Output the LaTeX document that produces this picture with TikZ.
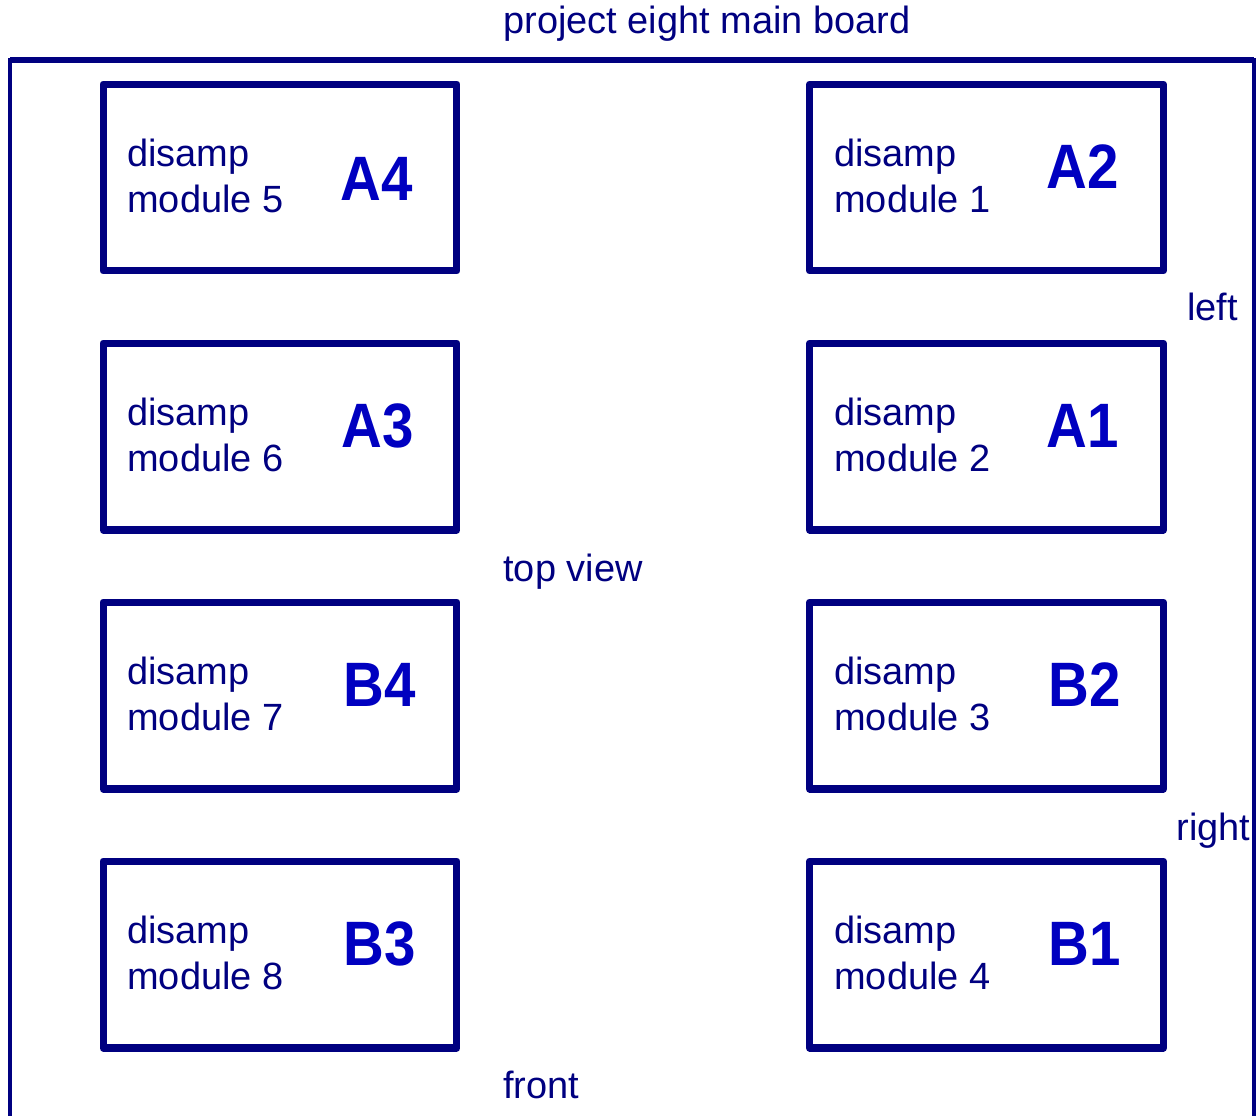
\documentclass[tikz,border=0pt]{standalone}
\usepackage{fontspec}
\setmainfont{Liberation Sans}
\newfontfamily\slotfont[FakeStretch=0.9]{Liberation Sans Bold}
\usepackage{tikz}
\definecolor{boardnavy}{RGB}{0,0,128}
\definecolor{slotblue}{RGB}{0,0,192}
\tikzset{
  module/.style={draw=boardnavy,line width=4pt,line join=round,
    minimum width=7.08cm,minimum height=3.74cm,inner sep=0pt},
  modtext/.style={anchor=base west,inner sep=0pt,text=boardnavy,
    font=\fontsize{21.6pt}{26pt}\selectfont},
  slot/.style={anchor=base west,inner sep=0pt,text=slotblue,
    font=\fontsize{35.7pt}{40pt}\slotfont},
  side/.style={anchor=base west,inner sep=0pt,text=boardnavy,
    font=\fontsize{21.6pt}{26pt}\selectfont}
}

\begin{document}
\begin{tikzpicture}[x=0.02cm,y=-0.02cm]
\useasboundingbox (0,0) rectangle (1256,1115);
\clip (0,0) rectangle (1256,1115);
% main board outline
\draw[boardnavy,line width=2.3pt] (10,1130) -- (10,60) -- (1253.5,60) -- (1253.5,1130);
\draw[boardnavy,line width=3.4pt] (10,60) -- (1253.5,60);
% modules, left column
\node[module] (m5) at (280,177.5) {};
\node[module] (m6) at (280,436.5) {};
\node[module] (m7) at (280,695.5) {};
\node[module] (m8) at (280,954.5) {};
% modules, right column
\node[module] (m1) at (986.5,177.5) {};
\node[module] (m2) at (986.5,436.5) {};
\node[module] (m3) at (986.5,695.5) {};
\node[module] (m4) at (986.5,954.5) {};
% module texts
\node[modtext] (d5) at (127,166) {disamp};
\node[modtext] (n5) at (127,212) {module 5};
\node[modtext] (d6) at (127,425) {disamp};
\node[modtext] (n6) at (127,471) {module 6};
\node[modtext] (d7) at (127,684) {disamp};
\node[modtext] (n7) at (127,730) {module 7};
\node[modtext] (d8) at (127,943) {disamp};
\node[modtext] (n8) at (127,989) {module 8};
\node[modtext] (d1) at (834,166) {disamp};
\node[modtext] (n1) at (834,212) {module 1};
\node[modtext] (d2) at (834,425) {disamp};
\node[modtext] (n2) at (834,471) {module 2};
\node[modtext] (d3) at (834,684) {disamp};
\node[modtext] (n3) at (834,730) {module 3};
\node[modtext] (d4) at (834,943) {disamp};
\node[modtext] (n4) at (834,989) {module 4};
% slot names
\node[slot] (s5) at (340,200) {A4};
\node[slot] (s6) at (341,447) {A3};
\node[slot] (s7) at (343,706) {B4};
\node[slot] (s8) at (343,965) {B3};
\node[slot] (s1) at (1046,188) {A2};
\node[slot] (s2) at (1046,447) {A1};
\node[slot] (s3) at (1048,706) {B2};
\node[slot] (s4) at (1048,965) {B1};
% board labels
\node[side] (title) at (503,34) {project eight main board};
\node[side] (left) at (1187,320) {left};
\node[side] (top) at (503,581) {top view};
\node[side] (right) at (1176,840) {right};
\node[side] (front) at (503,1098) {front};
\end{tikzpicture}
\end{document}
